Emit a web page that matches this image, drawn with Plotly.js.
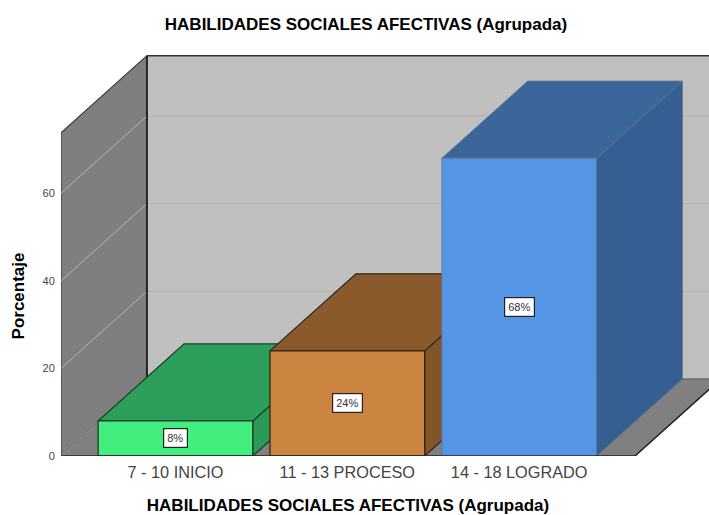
<!DOCTYPE html>
<html>
<head>
<meta charset="utf-8">
<script src="https://cdn.plot.ly/plotly-3.0.1.min.js"></script>
<style>html,body{margin:0;padding:0;background:#fff;overflow:hidden}#c{width:709px;height:515px}</style>
</head>
<body>
<div id="c"></div>
<script>
var categories = ["7 - 10 INICIO", "11 - 13 PROCESO", "14 - 18 LOGRADO"];
var values = [8, 24, 68];
var labels = ["8%", "24%", "68%"];
var yTicks = [0, 20, 40, 60];
var frontColors = ["#42ee7e", "#cc8540", "#5595e6"];
var topColors = ["#2ca05a", "#8a5a2c", "#3a6699"];
var sideColors = ["#2b9a56", "#80552a", "#355e92"];
var edgeColors = ["#1f3d2b", "#33261a", "#5f7488"];
var edgeWidths = [1.3, 1.3, 0.8];
var titleText = "HABILIDADES SOCIALES AFECTIVAS (Agrupada)";
var yTitle = "Porcentaje";

var barW = 0.9, half = barW / 2;
var depthX = 0.5, depthY = 17.6;
var xL = -0.666, xR = 2.674, wallTop = 73.8, xFar = xR + depthX;
var plotW = 648, plotH = 416, frontW = 574, frontH = 320, pxPerUnit = 4.38;
var xScale = frontW / (xR - xL);

function poly(xs, ys, fill, line, w) {
  return {type: "scatter", mode: "lines", x: xs, y: ys, xaxis: "x2", yaxis: "y2", fill: "toself", fillcolor: fill,
    line: {color: line, width: w}, hoverinfo: "skip", showlegend: false};
}
function seg(xs, ys, color, w) {
  return {type: "scatter", mode: "lines", x: xs, y: ys, xaxis: "x2", yaxis: "y2", line: {color: color, width: w},
    hoverinfo: "skip", showlegend: false};
}

var traces = [];
// carrier of the visible axes, no visible marks
traces.push({type: "scatter", mode: "markers", x: [0, 1, 2], y: values, marker: {opacity: 0},
  hoverinfo: "skip", showlegend: false});
// back wall, left wall, floor
traces.push(poly([xL + depthX, xFar, xFar, xL + depthX, xL + depthX],
  [depthY, depthY, wallTop + depthY, wallTop + depthY, depthY], "#c0c0c0", "rgba(0,0,0,0)", 0));
traces.push(poly([xL, xL + depthX, xL + depthX, xL, xL],
  [0, depthY, wallTop + depthY, wallTop, 0], "#7f7f7f", "#3a3a3a", 1.2));
traces.push(poly([xL, xL + depthX, xFar, xR, xL], [0, depthY, depthY, 0, 0], "#808080", "#555555", 1));
traces.push(seg([xL, xL + depthX], [0, depthY], "#a0a0a0", 1));
// gridlines
[20, 40, 60].forEach(function (v) {
  traces.push(seg([xL, xL + depthX], [v, v + depthY], "#b4b4b4", 1));
  traces.push(seg([xL + depthX, xFar], [v + depthY, v + depthY], "#b0b0b0", 1));
});
// frame edges
traces.push(seg([xL + depthX, xL + depthX], [depthY, wallTop + depthY], "#262626", 2));
traces.push(seg([xL + depthX, xFar], [wallTop + depthY, wallTop + depthY], "#333333", 1.5));
traces.push(seg([xR, xFar], [0, depthY], "#222222", 1.5));
// bars
values.forEach(function (v, i) {
  var a = i - half, b = i + half;
  traces.push(poly([b, b + depthX, b + depthX, b, b], [0, depthY, v + depthY, v, 0], sideColors[i], edgeColors[i], edgeWidths[i]));
  traces.push(poly([a, a + depthX, b + depthX, b, a], [v, v + depthY, v + depthY, v, v], topColors[i], edgeColors[i], edgeWidths[i]));
  traces.push(poly([a, b, b, a, a], [0, 0, v, v, 0], frontColors[i], edgeColors[i], edgeWidths[i]));
});
// front floor edge, over the bar feet
traces.push(seg([xL, xR], [0, 0], "#2a2a2a", 1.5));

var layout = {
  width: 709, height: 515,
  margin: {l: 61, r: 0, t: 40, b: 59, pad: 0},
  paper_bgcolor: "#ffffff", plot_bgcolor: "rgba(0,0,0,0)",
  showlegend: false,
  font: {family: "Liberation Sans, Arial, sans-serif", color: "#333333"},
  title: {text: titleText, x: 366 / 709, xref: "container", xanchor: "center",
    y: 1 - 24 / 515, yref: "container", yanchor: "middle",
    font: {family: "Liberation Sans, Arial, sans-serif", size: 17, color: "#000000", weight: "bold"}},
  xaxis: {domain: [0, frontW / plotW], range: [xL, xR], tickmode: "array", tickvals: [0, 1, 2], ticktext: categories,
    showgrid: false, zeroline: false, showline: false, ticks: "outside", ticklen: 1, tickcolor: "rgba(0,0,0,0)", fixedrange: true,
    tickfont: {size: 16.3, color: "#444444"}, automargin: false, anchor: "y",
    title: {text: titleText, standoff: 21, font: {size: 17, color: "#000000", weight: "bold"}}},
  yaxis: {domain: [0, frontH / plotH], range: [0, frontH / pxPerUnit], tickmode: "array", tickvals: yTicks,
    showgrid: false, zeroline: false, showline: false, ticks: "outside", ticklen: 3,
    tickcolor: "rgba(0,0,0,0)", fixedrange: true, automargin: false, anchor: "x",
    tickfont: {size: 11, color: "#444444"},
    title: {text: yTitle, standoff: 13, font: {size: 17, color: "#000000", weight: "bold"}}},
  xaxis2: {domain: [0, 1], range: [xL, xL + plotW / xScale], visible: false, anchor: "y2", fixedrange: true},
  yaxis2: {domain: [0, 1], range: [0, plotH / pxPerUnit], visible: false, anchor: "x2", fixedrange: true},
  annotations: values.map(function (v, i) {
    return {x: i, y: v / 2, xref: "x", yref: "y", text: labels[i], showarrow: false,
      bgcolor: "#ffffff", bordercolor: "#222222", borderwidth: 1.2, borderpad: 3,
      font: {size: 11, color: "#333333"}};
  })
};
Plotly.newPlot("c", traces, layout, {displayModeBar: false, staticPlot: true});
</script>
</body>
</html>
